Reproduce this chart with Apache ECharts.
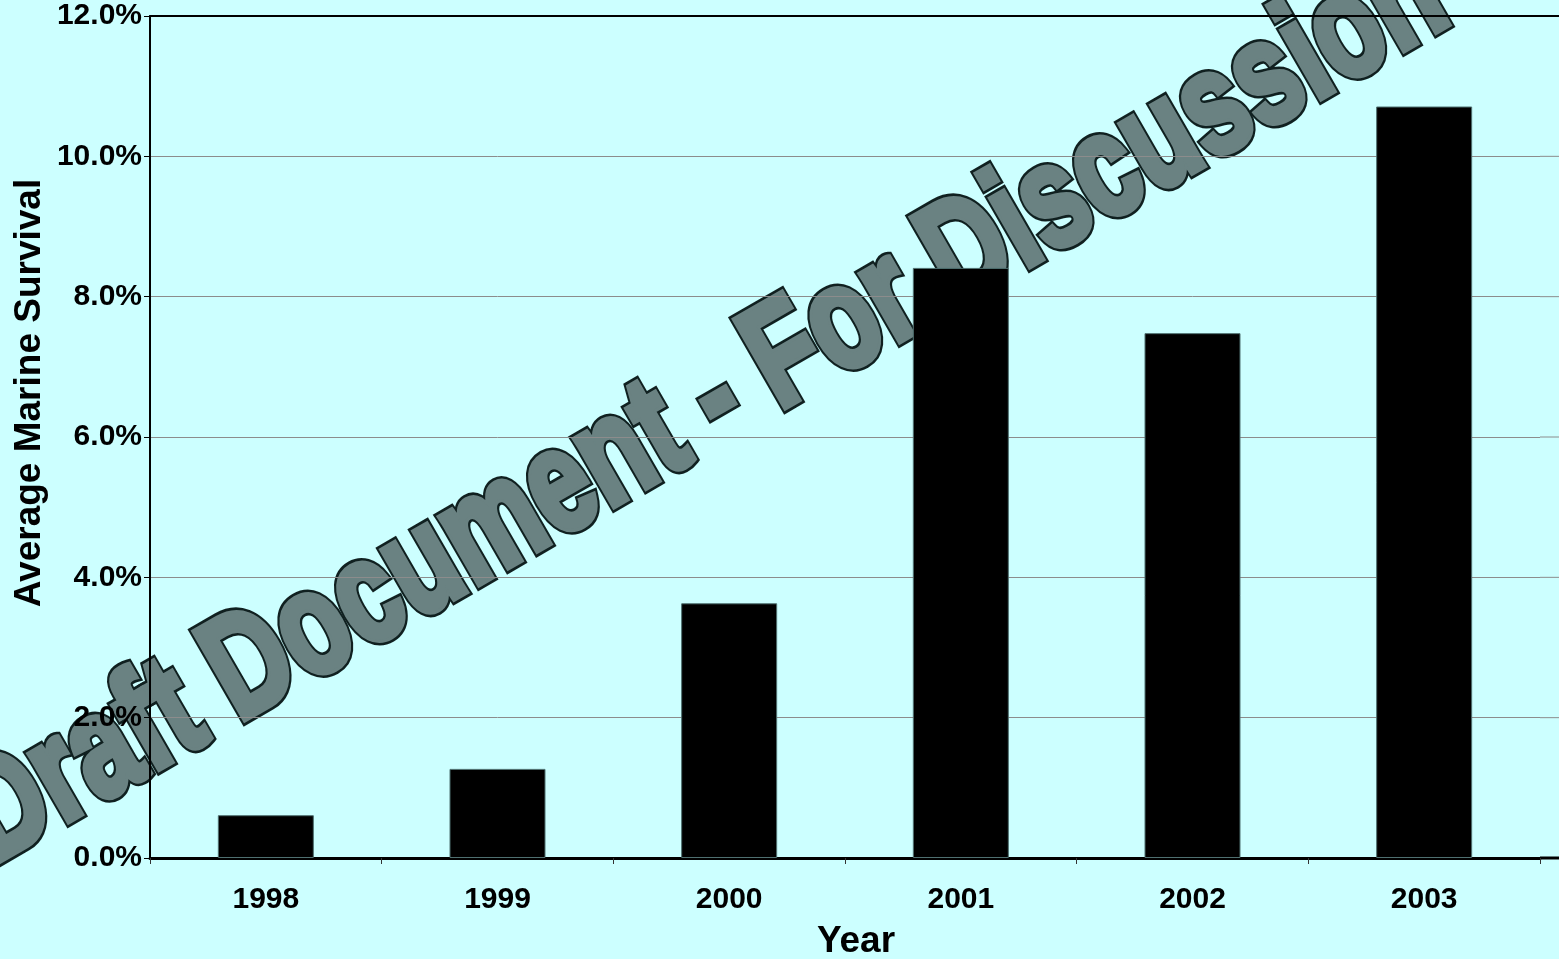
<!DOCTYPE html>
<html>
<head>
<meta charset="utf-8">
<script src="https://cdn.jsdelivr.net/npm/echarts@6/dist/echarts.min.js"></script>
<style>
html,body{margin:0;padding:0;background:#CCFFFF;}
#c{width:1559px;height:959px;}
</style>
</head>
<body>
<div id="c"></div>
<script>
const years = ['1998', '1999', '2000', '2001', '2002', '2003'];
const survival = [0.61, 1.27, 3.63, 8.41, 7.48, 10.71];
const yTicks = [0, 2, 4, 6, 8, 10, 12];
const yTitle = 'Average Marine Survival';
const xTitle = 'Year';
const watermark = 'Draft Document - For Discussion';

const FONT = "Arial, 'Liberation Sans', sans-serif";
const chart = echarts.init(document.getElementById('c'), null, {renderer: 'canvas'});

const gridLeft = 150, gridTop = 16, gridRight = 19, gridBottom = 101;

const wmBase = {
  x: -26, y: 829,
  rotation: Math.PI / 6,
  scaleY: 1.35
};

const option = {
  backgroundColor: '#CCFFFF',
  animation: false,
  grid: {left: gridLeft, top: gridTop, right: gridRight, bottom: gridBottom, containLabel: false},
  xAxis: [{
    type: 'category',
    data: years,
    position: 'bottom',
    axisLine: {show: true, lineStyle: {color: '#000', width: 3}},
    axisTick: {show: true, length: 6, lineStyle: {color: '#333', width: 1}},
    axisLabel: {color: '#000', fontFamily: FONT, fontWeight: 'bold', fontSize: 30, margin: 27},
    z: 3
  }, {
    type: 'category',
    data: years,
    position: 'top',
    axisLine: {show: true, lineStyle: {color: '#000', width: 2}},
    axisTick: {show: false},
    axisLabel: {show: false},
    z: 3
  }],
  yAxis: {
    type: 'value',
    min: yTicks[0],
    max: yTicks[yTicks.length - 1],
    interval: yTicks[1] - yTicks[0],
    axisLine: {show: true, lineStyle: {color: '#000', width: 2}},
    axisTick: {show: true, length: 6, lineStyle: {color: '#000', width: 1}},
    axisLabel: {
      color: '#000', fontFamily: FONT, fontWeight: 'bold', fontSize: 30, margin: 8,
      formatter: v => v.toFixed(1) + '%'
    },
    splitLine: {show: true, lineStyle: {color: '#8c8c8c', width: 1}},
    z: 3
  },
  series: [{
    type: 'bar',
    data: survival,
    xAxisIndex: 0,
    barWidth: 96,
    itemStyle: {color: '#000', borderColor: '#4f7070', borderWidth: 1},
    z: 4
  }],
  graphic: [
    Object.assign({
      type: 'text', z: -6,
      style: {
        text: watermark,
        font: "bold 108px " + FONT,
        fill: '#102020',
        stroke: '#102020',
        lineWidth: 9,
        lineJoin: 'round',
        textAlign: 'left',
        textVerticalAlign: 'middle'
      }
    }, wmBase),
    Object.assign({
      type: 'text', z: -5,
      style: {
        text: watermark,
        font: "bold 108px " + FONT,
        fill: '#6a8282',
        stroke: '#6a8282',
        lineWidth: 5,
        lineJoin: 'round',
        textAlign: 'left',
        textVerticalAlign: 'middle'
      }
    }, wmBase),
    {
      type: 'text', z: 5,
      x: 30, y: 393,
      rotation: Math.PI / 2,
      style: {
        text: yTitle,
        font: "bold 37px " + FONT,
        fill: '#000',
        textAlign: 'center',
        textVerticalAlign: 'middle'
      }
    },
    {
      type: 'text', z: 5,
      x: 856, y: 942,
      style: {
        text: xTitle,
        font: "bold 37px " + FONT,
        fill: '#000',
        textAlign: 'center',
        textVerticalAlign: 'middle'
      }
    }
  ]
};
chart.setOption(option);

// extend the horizontal grid lines / frame to the right edge of the picture
const right = chart.getWidth() - gridRight;
const ext = yTicks.map((t, i) => {
  const py = chart.convertToPixel({yAxisIndex: 0}, t);
  const isEdge = (i === 0 || i === yTicks.length - 1);
  return {
    type: 'line', z: 3,
    shape: {x1: right, y1: py, x2: chart.getWidth(), y2: py},
    style: {stroke: isEdge ? '#000' : '#8c8c8c', lineWidth: i === 0 ? 3 : (isEdge ? 2 : 1)}
  };
});
chart.setOption({graphic: option.graphic.concat(ext)});
</script>
</body>
</html>
